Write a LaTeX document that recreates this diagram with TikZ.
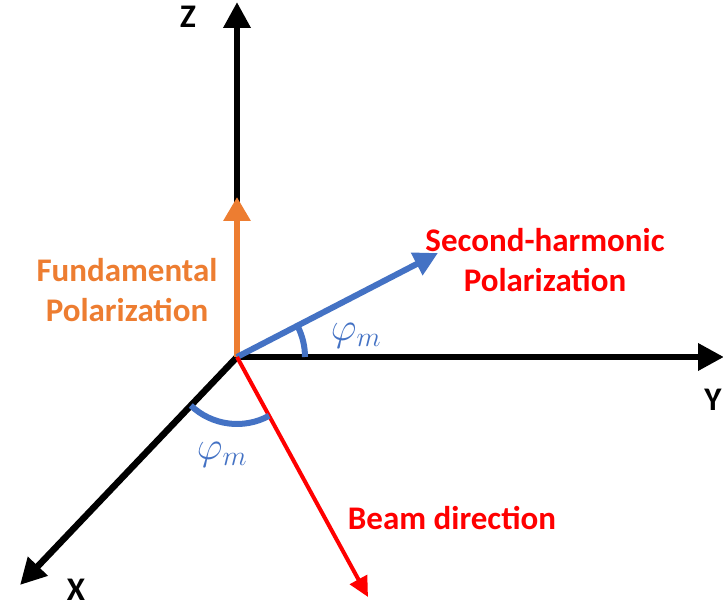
\RequirePackage{fix-cm}
\documentclass[tikz,border=0pt]{standalone}
\usepackage{fontspec}
\setmainfont{Carlito}
\usetikzlibrary{arrows.meta}
\definecolor{fund}{RGB}{237,125,49}
\definecolor{shg}{RGB}{68,114,196}
\definecolor{beam}{RGB}{255,0,0}
\tikzset{
  axis/.style={line width=6.5pt, draw=black, -{Triangle[length=26pt, width=26pt]}},
  vec/.style={line width=6pt, -{Triangle[length=24pt, width=26pt]}},
  lbl/.style={font=\fontsize{33}{40}\selectfont\bfseries, align=center, inner sep=0pt},
  angarc/.style={draw=shg, line width=6pt},
  ang/.style={text=shg, font=\fontsize{40}{42}\selectfont, inner sep=0pt},
}

\begin{document}
\begin{tikzpicture}[x=1pt, y=1pt]
  \useasboundingbox (0,0) rectangle (723,608);

  \coordinate (O) at (237,251);
  \coordinate (ztip) at (237,606);
  \coordinate (ytip) at (724,251);
  \coordinate (xtip) at (20,23);
  \coordinate (ftip) at (237,411);
  \coordinate (stip) at (438,355);
  \coordinate (btip) at (368,11);

  % axes
  \draw[axis] (O) -- (ztip);
  \draw[axis] (O) -- (ytip);
  \draw[axis] (O) -- (xtip);

  % polarizations and beam
  \draw[vec, draw=fund, fill=fund] (O) -- (ftip);
  \draw[vec, draw=shg, fill=shg, -{Triangle[length=24pt, width=24pt]}] (O) -- (stip);
  \draw[line width=4pt, draw=beam, -{Triangle[length=20pt, width=19pt]}] (O) -- (btip);

  % angles
  \draw[angarc] (O) ++(0:68) arc[start angle=0, end angle=27.5, radius=68];
  \draw[angarc] (O) ++(226.4:67) arc[start angle=226.4, end angle=298.6, radius=67];

  \node[lbl] (zlab) at (188,591) {Z};
  \node[lbl] (ylab) at (713,208) {Y};
  \node[lbl] (xlab) at (76,18) {X};

  \node[lbl, text=fund] (flab) at (127,318) {Fundamental\\Polarization};
  \node[lbl, text=beam] (slab) at (545,348) {Second-harmonic\\Polarization};
  \node[lbl, text=beam] (blab) at (452,90) {Beam direction};

  \node[ang] (phi1) at (356,272) {$\varphi_m$};
  \node[ang] (phi2) at (222,153) {$\varphi_m$};
\end{tikzpicture}
\end{document}
